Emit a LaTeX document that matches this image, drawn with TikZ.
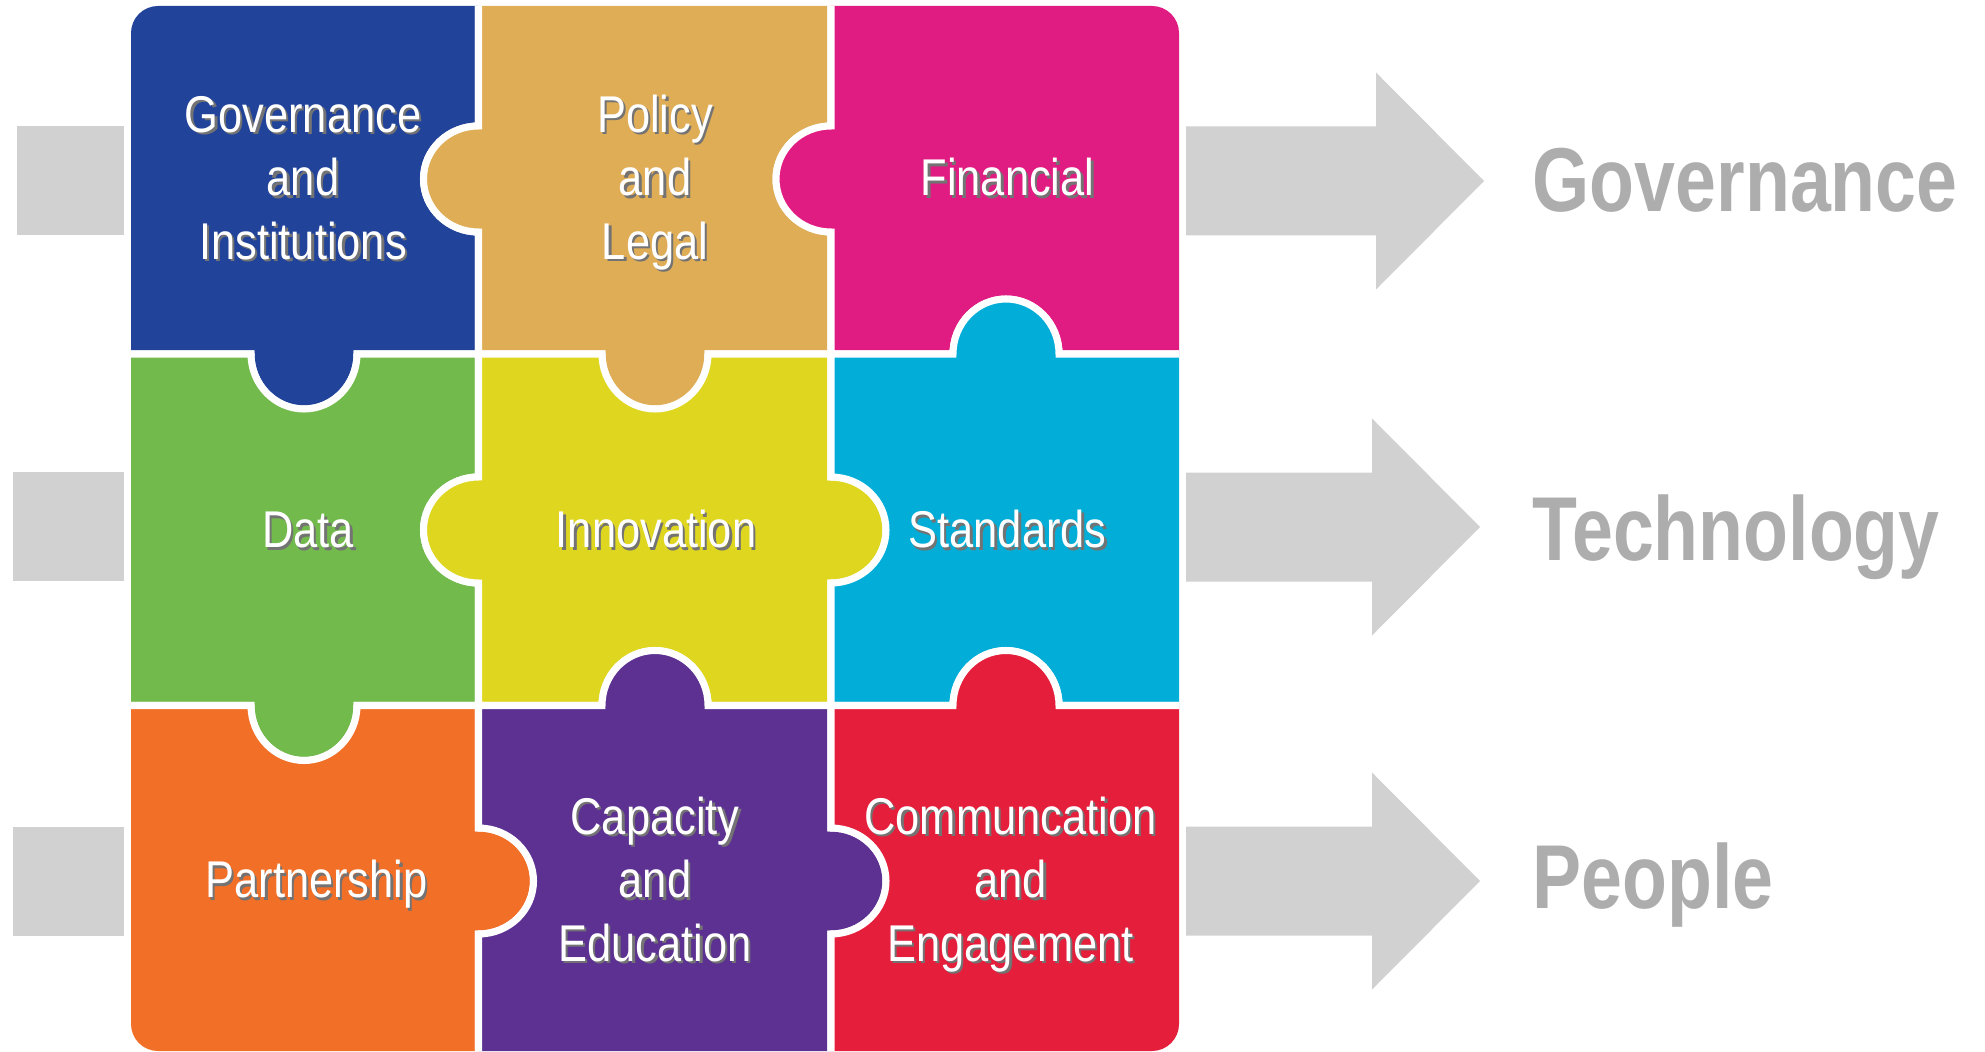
\documentclass[tikz,border=0pt]{standalone}
\usepackage{fontspec}
\newfontfamily\piecefont[FakeStretch=0.84]{Liberation Sans}
\newfontfamily\pillarfont[FakeStretch=0.81]{Liberation Sans}
\definecolor{govblue}{HTML}{21449A}
\definecolor{poltan}{HTML}{E0AD57}
\definecolor{finpink}{HTML}{E01B82}
\definecolor{datgreen}{HTML}{72BA4C}
\definecolor{innyellow}{HTML}{DFD61F}
\definecolor{stdcyan}{HTML}{02AED8}
\definecolor{parorange}{HTML}{F26F27}
\definecolor{cappurple}{HTML}{5C3191}
\definecolor{comred}{HTML}{E41E3B}
\definecolor{arrowgray}{HTML}{D1D1D1}
\definecolor{pillargray}{HTML}{ADADAD}
\newcommand\sh[1]{\strut\rlap{\kern0.7pt\raisebox{-0.7pt}{\color{black!55}#1}}#1}

\begin{document}
\begin{tikzpicture}[x=0.01cm,y=-0.01cm,
  piece/.style={fill=#1,draw=white,line width=2pt},
  greybar/.style={fill=arrowgray},
  txt/.style={text=white,font=\piecefont\fontsize{14.7}{18.1}\selectfont,align=center,inner sep=0pt},
  pillar/.style={text=pillargray,font=\pillarfont\bfseries\fontsize{25.8}{30}\selectfont,anchor=base west,inner sep=0pt}]
  \useasboundingbox (0,0) rectangle (1985,1052);

  % puzzle: colour/x0/x1/y0/y1/tab centre x/tab centre y/top/right/bottom/left
  \begin{scope}
  \clip[rounded corners=0.27cm] (131,6) rectangle (1179,1051);
  \foreach \c/\xa/\xb/\ya/\yb/\cx/\cy/\t/\r/\b/\l in {
    govblue/127/478.5/2/354/304/179/0/-1/1/0,
    poltan/478.5/831/2/354/655/179/0/-1/1/1,
    finpink/831/1183/2/354/1006/179/0/0/-1/1,
    datgreen/127/478.5/354/705.5/304/530/-1/-1/1/0,
    innyellow/478.5/831/354/705.5/655/530/-1/1/-1/1,
    stdcyan/831/1183/354/705.5/1006/530/1/0/-1/-1,
    parorange/127/478.5/705.5/1056/304/881/-1/1/0/0,
    cappurple/478.5/831/705.5/1056/655/881/1/1/0/-1,
    comred/831/1183/705.5/1056/1006/881/1/0/0/-1}
  \fill[piece=\c]
    (\xa,\ya) -- (\cx-53,\ya) arc[start angle=180,delta angle={180*(\t)},x radius=53,y radius=55]
    -- (\xb,\ya) -- (\xb,\cy-53) arc[start angle=-90,delta angle={180*(\r)},x radius=55,y radius=53]
    -- (\xb,\yb) -- (\cx+53,\yb) arc[start angle=0,delta angle={180*(\b)},x radius=53,y radius=55]
    -- (\xa,\yb) -- (\xa,\cy+53) arc[start angle=90,delta angle={180*(\l)},x radius=55,y radius=53]
    -- cycle;
  \end{scope}

  % grey bars in, arrows out
  \fill[greybar] (17,126) rectangle (124,235);
  \fill[greybar] (13,472) rectangle (124,581);
  \fill[greybar] (13,827) rectangle (124,936);
  \foreach \y/\hb/\tip in {181/1376/1484,527/1372/1480,881/1372/1480}
    \fill[greybar] (1186,\y-54.5) -- (\hb,\y-54.5) -- (\hb,\y-108.5) -- (\tip,\y)
      -- (\hb,\y+108.5) -- (\hb,\y+54.5) -- (1186,\y+54.5) -- cycle;

  \node[txt] (govinst) at (303,183) {\sh{Governance}\\\sh{and}\\\sh{Institutions}};
  \node[txt] (pollegal) at (655,183) {\sh{Policy}\\\sh{and}\\\sh{Legal}};
  \node[txt] (fin) at (1007.5,183) {\sh{Financial}};
  \node[txt] (data) at (308,535) {\sh{Data}};
  \node[txt] (innov) at (656,535) {\sh{Innovation}};
  \node[txt] (stand) at (1007.5,535) {\sh{Standards}};
  \node[txt] (partner) at (316.5,885) {\sh{Partnership}};
  \node[txt] (capedu) at (655,885) {\sh{Capacity}\\\sh{and}\\\sh{Education}};
  \node[txt] (commeng) at (1010.5,885) {\sh{Communcation}\\\sh{and}\\\sh{Engagement}};

  \node[pillar] (pgov) at (1532,212) {Governance};
  \node[pillar] (ptech) at (1532,560) {Technology};
  \node[pillar] (ppeople) at (1532,908) {People};
  %\draw[red] (131,6) rectangle (1179,1052);
\end{tikzpicture}
\end{document}
